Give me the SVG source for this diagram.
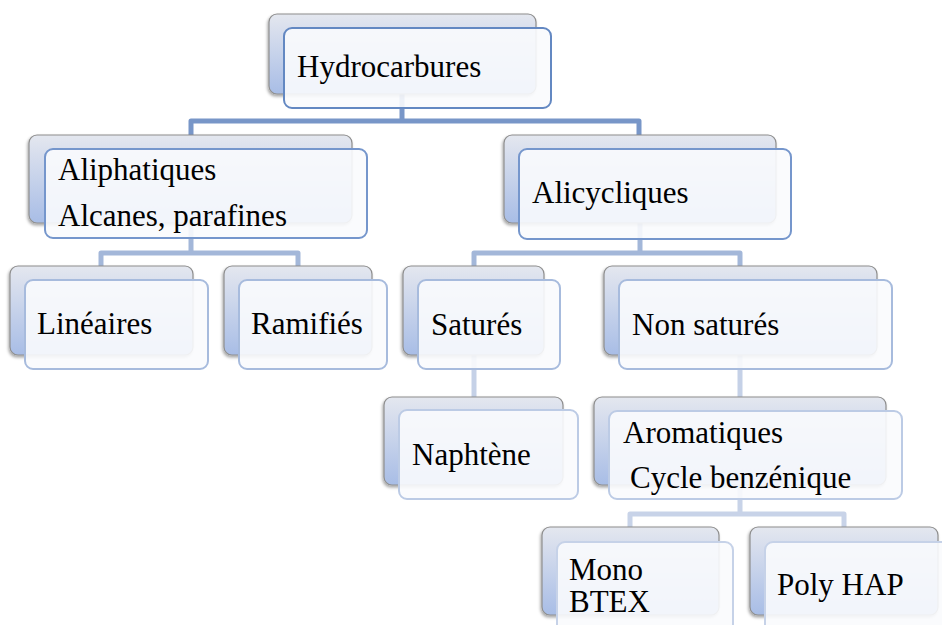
<svg xmlns="http://www.w3.org/2000/svg" width="942" height="625" viewBox="0 0 942 625">
<defs>
<linearGradient id="bg" x1="0" y1="0" x2="0" y2="1">
<stop offset="0" stop-color="#e4e7ef"/>
<stop offset="1" stop-color="#a8bde6"/>
</linearGradient>
<filter id="sh" x="-10%" y="-10%" width="120%" height="130%">
<feDropShadow dx="-1" dy="2" stdDeviation="1.5" flood-color="#000" flood-opacity="0.35"/>
</filter>
</defs>
<style>
.back{fill:url(#bg);stroke:#8e8e8e;stroke-width:1.2;filter:url(#sh)}
.front{fill:#fafbfd;fill-opacity:0.9;stroke-width:2}
.s1{stroke:#6388c2}
.s2{stroke:#7596cc}
.s3{stroke:#a7bbdd}
.s4{stroke:#bccbe5}
.s5{stroke:#c6d2e8}
.t{font-size:31px;fill:#000}
.c{fill:none;stroke-width:5;stroke-linejoin:round}
</style>
<g id="connectors">
<path class="c" stroke="#7896c8" d="M191,135 V121 H639 V135 M402,94 V121"/>
<path class="c" stroke="#a3b7d9" d="M101,266 V253 H298 V266 M191,223 V253"/>
<path class="c" stroke="#a3b7d9" d="M474,266 V253 H740 V266 M640,223 V253"/>
<path class="c" stroke="#c5d1e7" d="M474,355 V397"/>
<path class="c" stroke="#c5d1e7" d="M740,355 V397"/>
<path class="c" stroke="#c8d3e8" d="M630,527 V514 H844 V527 M740,485 V514"/>
</g>
<g font-family="Liberation Serif, DejaVu Serif, serif">
<g id="hydrocarbures">
<rect class="back" x="269" y="14" width="267" height="80" rx="8"/>
<rect class="front s1" x="284" y="28" width="267" height="80" rx="8"/>
<text class="t" x="297" y="77">Hydrocarbures</text>
</g>
<g id="aliphatiques">
<rect class="back" x="29" y="135" width="323" height="88" rx="8"/>
<rect class="front s2" x="45" y="149" width="322" height="89" rx="8"/>
<text class="t" x="58" y="180">Aliphatiques</text>
<text class="t" x="58" y="226">Alcanes, parafines</text>
</g>
<g id="alicycliques">
<rect class="back" x="504" y="135" width="272" height="88" rx="8"/>
<rect class="front s2" x="519" y="149" width="272" height="90" rx="8"/>
<text class="t" x="532" y="203">Alicycliques</text>
</g>
<g id="lineaires">
<rect class="back" x="10" y="266" width="183" height="89" rx="8"/>
<rect class="front s3" x="25" y="280" width="183" height="89" rx="8"/>
<text class="t" x="37" y="334">Linéaires</text>
</g>
<g id="ramifies">
<rect class="back" x="224" y="266" width="148" height="89" rx="8"/>
<rect class="front s3" x="239" y="280" width="148" height="89" rx="8"/>
<text class="t" x="251" y="334">Ramifiés</text>
</g>
<g id="satures">
<rect class="back" x="403" y="266" width="141" height="89" rx="8"/>
<rect class="front s3" x="418" y="280" width="142" height="89" rx="8"/>
<text class="t" x="431" y="335">Saturés</text>
</g>
<g id="non-satures">
<rect class="back" x="604" y="266" width="273" height="89" rx="8"/>
<rect class="front s3" x="619" y="280" width="273" height="89" rx="8"/>
<text class="t" x="632" y="335">Non saturés</text>
</g>
<g id="naphtene">
<rect class="back" x="384" y="397" width="179" height="88" rx="8"/>
<rect class="front s4" x="399" y="410" width="179" height="89" rx="8"/>
<text class="t" x="412" y="465">Naphtène</text>
</g>
<g id="aromatiques">
<rect class="back" x="594" y="397" width="292" height="88" rx="8"/>
<rect class="front s4" x="609" y="411" width="293" height="88" rx="8"/>
<text class="t" x="623" y="443">Aromatiques</text>
<text class="t" x="630" y="488">Cycle benzénique</text>
</g>
<g id="mono">
<rect class="back" x="542" y="527" width="177" height="88" rx="8"/>
<rect class="front s5" x="557" y="542" width="176" height="90" rx="8"/>
<text class="t" x="569" y="580">Mono</text>
<text class="t" x="569" y="612">BTEX</text>
</g>
<g id="poly">
<rect class="back" x="750" y="527" width="188" height="88" rx="8"/>
<rect class="front s5" x="765" y="542" width="188" height="90" rx="8"/>
<text class="t" x="777" y="595">Poly HAP</text>
</g>
</g>
</svg>
